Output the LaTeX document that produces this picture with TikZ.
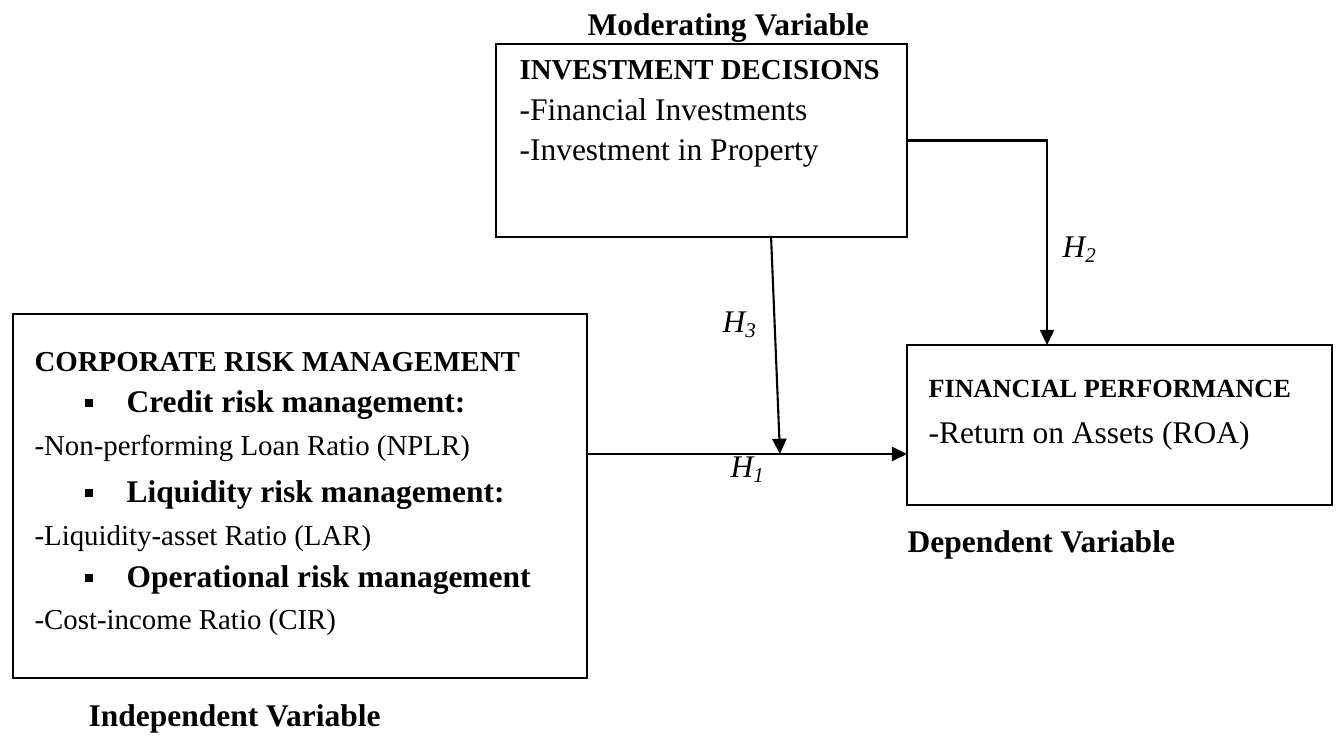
\documentclass[tikz,border=0pt]{standalone}
\usepackage{fontspec}
\setmainfont{Liberation Serif}
\usepackage{tikz}
\usetikzlibrary{arrows.meta,positioning,calc}

\begin{document}
\begin{tikzpicture}[
    x=0.381pt, y=-0.381pt,
    >={Triangle[length=5.8pt, width=5.4pt]},
    box/.style={draw, line width=0.8pt, inner sep=0pt, outer sep=0pt, anchor=north west},
    txt/.style={anchor=base west, inner sep=0pt, font=\fontsize{12}{14}\selectfont},
    small/.style={anchor=base west, inner sep=0pt, font=\fontsize{11}{13}\selectfont},
    sq/.style={fill, inner sep=0pt, minimum size=3.2pt},
    hyp/.style={anchor=base west, inner sep=0pt, font=\fontsize{12}{14}\selectfont\itshape},
    arr/.style={->, line width=0.8pt}
  ]
  \useasboundingbox (0,0) rectangle (1340,740);

  % boxes
  \node[box, minimum width=411*0.381pt, minimum height=193*0.381pt] (id) at (496,44) {};
  \node[box, minimum width=574*0.381pt, minimum height=364*0.381pt] (crm) at (13,314) {};
  \node[box, minimum width=425*0.381pt, minimum height=160*0.381pt] (fp) at (907,345) {};

  % moderating variable
  \node[txt, font=\fontsize{12}{14}\selectfont\bfseries] (modlab) at (587,36) {Moderating Variable};
  \node[small, font=\fontsize{11}{13}\selectfont\bfseries] (idhead) at (519,80) {INVESTMENT DECISIONS};
  \node[txt] (id1) at (519,121) {-Financial Investments};
  \node[txt] (id2) at (519,161) {-Investment in Property};

  % independent variable
  \node[small, font=\fontsize{11}{13}\selectfont\bfseries] (crmhead) at (34,372) {CORPORATE RISK MANAGEMENT};
  \node[sq] (b1) at (89,403) {};
  \node[small, font=\fontsize{12}{14}\selectfont\bfseries] (credit) at (126,413) {Credit risk management:};
  \node[small] (nplr) at (34,456) {-Non-performing Loan Ratio (NPLR)};
  \node[sq] (b2) at (89,493) {};
  \node[small, font=\fontsize{12}{14}\selectfont\bfseries] (liq) at (126,503) {Liquidity risk management:};
  \node[small] (lar) at (34,546) {-Liquidity-asset Ratio (LAR)};
  \node[sq] (b3) at (89,578) {};
  \node[small, font=\fontsize{12}{14}\selectfont\bfseries] (oper) at (126,588) {Operational risk management};
  \node[small] (cir) at (34,630) {-Cost-income Ratio (CIR)};
  \node[txt, font=\fontsize{12}{14}\selectfont\bfseries] (indlab) at (88,727) {Independent Variable};

  % dependent variable
  \node[txt, font=\fontsize{10}{12}\selectfont\bfseries] (fphead) at (928,398) {FINANCIAL PERFORMANCE};
  \node[txt] (roa) at (928,444) {-Return on Assets (ROA)};
  \node[txt, font=\fontsize{12}{14}\selectfont\bfseries] (deplab) at (907,553) {Dependent Variable};

  % hypotheses
  \coordinate (meet) at (780,454);
  \draw[arr] (crm.east |- meet) -- (fp.west |- meet);
  \draw[arr] ([xshift=26.5pt]id.south) -- (meet);
  \draw[arr] (id.east) -| ([xshift=-27.6pt]fp.north);
  \node[hyp] (h1) at (730,478) {H\textsubscript{1}};
  \node[hyp] (h2) at (1062,258) {H\textsubscript{2}};
  \node[hyp] (h3) at (722,333) {H\textsubscript{3}};
\end{tikzpicture}
\end{document}
